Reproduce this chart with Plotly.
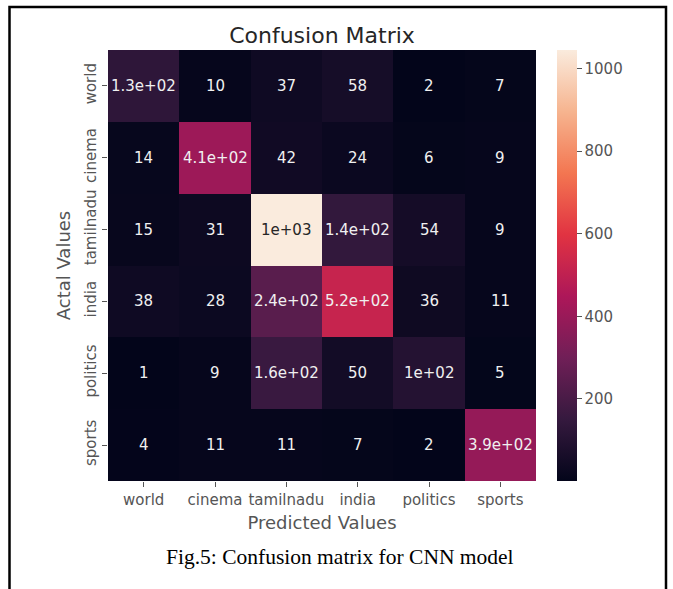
import plotly.graph_objects as go

labels = ["world", "cinema", "tamilnadu", "india", "politics", "sports"]
z = [
    [130, 10, 37, 58, 2, 7],
    [14, 410, 42, 24, 6, 9],
    [15, 31, 1045, 140, 54, 9],
    [38, 28, 240, 520, 36, 11],
    [1, 9, 160, 50, 100, 5],
    [4, 11, 11, 7, 2, 390],
]
cbar_ticks = [200, 400, 600, 800, 1000]

rocket = [
    (0.0, "#03051a"), (1/7, "#35193e"), (2/7, "#701f57"), (3/7, "#ad1759"),
    (4/7, "#e13342"), (5/7, "#f37651"), (6/7, "#f6b48f"), (1.0, "#faebdd"),
]
zmin = min(min(r) for r in z)
zmax = max(max(r) for r in z)


def hex2rgb(h):
    return tuple(int(h[i:i + 2], 16) / 255 for i in (1, 3, 5))


def color_at(t):
    for (p0, c0), (p1, c1) in zip(rocket[:-1], rocket[1:]):
        if p0 <= t <= p1:
            f = (t - p0) / (p1 - p0) if p1 > p0 else 0
            a, b = hex2rgb(c0), hex2rgb(c1)
            return tuple(a[i] + (b[i] - a[i]) * f for i in range(3))
    return hex2rgb(rocket[-1][1])


def lum(rgb):
    def ch(c):
        return c / 12.92 if c <= 0.03928 else ((c + 0.055) / 1.055) ** 2.4
    r, g, b = (ch(c) for c in rgb)
    return 0.2126 * r + 0.7152 * g + 0.0722 * b


FONT = "DejaVu Sans"
fig = go.Figure(go.Heatmap(
    z=z, x=labels, y=labels, zmin=zmin, zmax=zmax,
    colorscale=[[p, c] for p, c in rocket],
    colorbar=dict(
        thickness=20, lenmode="pixels", len=431, x=1.049, xanchor="left", xpad=0,
        y=0.5, yanchor="middle", ypad=0, outlinewidth=0,
        tickvals=cbar_ticks, ticks="outside", ticklen=5, tickcolor="#555555",
        tickfont=dict(family=FONT, size=15, color="#555555"),
    ),
    hoverinfo="skip",
))

annotations = []
for i, row in enumerate(z):
    for j, v in enumerate(row):
        t = (v - zmin) / (zmax - zmin)
        col = "#262626" if lum(color_at(t)) > 0.408 else "#f0f0f0"
        annotations.append(dict(
            x=labels[j], y=labels[i], text=format(v, ".2g"), showarrow=False,
            font=dict(family=FONT, size=15, color=col),
        ))

annotations.append(dict(
    xref="paper", yref="paper", x=0.543, y=-0.176, xanchor="center", yanchor="middle",
    text="Fig.5: Confusion matrix for CNN model", showarrow=False,
    font=dict(family="Liberation Serif", size=21.5, color="#000000"),
))


# frame of the figure in the paper
def px_x(p):
    return (p - 108) / 428


def px_y(p):
    return (481 - p) / 431


shapes = [dict(
    type="path", xref="paper", yref="paper",
    path=f"M {px_x(9.5)},{px_y(600)} L {px_x(9.5)},{px_y(7)} L {px_x(666)},{px_y(7)} L {px_x(666)},{px_y(600)}",
    line=dict(color="#000000", width=2.5),
)]

fig.update_layout(
    width=673, height=589,
    margin=dict(l=108, r=137, t=50, b=108),
    paper_bgcolor="white", plot_bgcolor="white",
    title=dict(text="Confusion Matrix", x=(108 + 536) / 2 / 673, xanchor="center",
               y=1 - 35 / 589, yanchor="middle",
               font=dict(family=FONT, size=22, color="#262626")),
    xaxis=dict(
        title=dict(text="Predicted Values", font=dict(family=FONT, size=18, color="#555555"), standoff=8),
        tickfont=dict(family=FONT, size=15, color="#555555"),
        ticks="outside", ticklen=5, tickcolor="#555555", showgrid=False, zeroline=False,
    ),
    yaxis=dict(
        title=dict(text="Actal Values", font=dict(family=FONT, size=18, color="#555555"), standoff=6),
        tickfont=dict(family=FONT, size=15, color="#555555"), tickangle=-90,
        ticks="outside", ticklen=5, tickcolor="#555555", showgrid=False, zeroline=False,
        autorange="reversed",
    ),
    annotations=annotations,
    shapes=shapes,
)

fig.write_html("out.html")
